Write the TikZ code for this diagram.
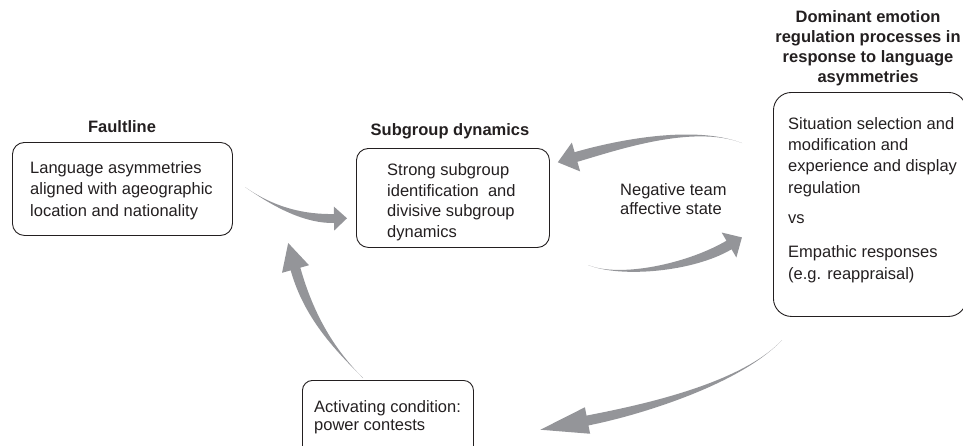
\documentclass[tikz,border=0pt]{standalone}
\usepackage{fontspec}
\setmainfont{Liberation Sans}
\usetikzlibrary{calc}
\definecolor{arrowgray}{RGB}{148,149,153}
\definecolor{ink}{RGB}{35,31,32}
% tapered curved arrow: #1 tail, #2 ctrl1, #3 ctrl2, #4 head base, #5 half shaft width, #6 half head width, #7 head length
\newcommand{\taperarrow}[7]{%
  \fill[arrowgray] (#1) .. controls (#2) and ($(#3)!#5!-90:(#4)$) .. ($(#4)!#5!90:(#3)$)
    -- ($(#4)!#6!90:(#3)$) -- ($(#4)!-#7!(#3)$) -- ($(#4)!#6!-90:(#3)$)
    -- ($(#4)!#5!-90:(#3)$) .. controls ($(#3)!#5!90:(#4)$) and (#2) .. (#1) -- cycle;
}
\begin{document}
\begin{tikzpicture}[x=1pt,y=-1pt,
  box/.style={draw=ink, line width=0.9pt, rounded corners=12pt, anchor=north west, inner sep=0pt},
  body/.style={text=ink, inner sep=0pt, anchor=base west, align=left},
  ttl/.style={text=ink, inner sep=0pt, anchor=base, align=center, font=\fontsize{16.5}{19.7}\selectfont\bfseries}]
\useasboundingbox (0,0) rectangle (963,445);
\clip (0,0) rectangle (963,445);

% boxes
\node[box, minimum width=220pt, minimum height=93pt] (fault) at (12,142) {};
\node[box, minimum width=193pt, minimum height=99pt] (subg) at (356,148) {};
\node[box, minimum width=193pt, minimum height=224pt, rounded corners=18pt] (emo) at (773,92) {};
\node[box, minimum width=171pt, minimum height=85pt, rounded corners=10pt] (act) at (302,380) {};

% titles (anchored at the baseline of their last line)
\node[ttl] (faulttitle) at (122,132) {Faultline};
\node[ttl] (subgtitle) at (450,135) {Subgroup dynamics};
\node[ttl] (emotitle) at (868,82) {Dominant emotion\\regulation processes in\\response to language\\asymmetries};

% texts (anchored at the baseline of their last line)
\node[body, font=\fontsize{16.5}{21.5}\selectfont] (faulttxt) at (30,216)
  {Language asymmetries\\aligned with ageographic\\location and nationality};
\node[body, font=\fontsize{16.5}{20.5}\selectfont] (subgtxt) at (387,237)
  {Strong subgroup\\identification\ \ and\\divisive subgroup\\dynamics};
\node[body, font=\fontsize{16.5}{21.3}\selectfont] (emotxt) at (788,279)
  {Situation selection and\\modification and\\experience and display\\regulation\\[9.5pt]vs\\[12.5pt]Empathic responses\\(e.g. reappraisal)};
\node[body, font=\fontsize{16.5}{19}\selectfont] (negtxt) at (620,214)
  {Negative team\\affective state};
\node[body, font=\fontsize{16.5}{18.5}\selectfont] (acttxt) at (314,430.5)
  {Activating condition:\\power contests};

% arrow anchor coordinates
\coordinate (a1t) at (245,187); \coordinate (a1c) at (275,208); \coordinate (a1d) at (305,219); \coordinate (a1b) at (334,218.5);
\coordinate (a2t) at (742,143); \coordinate (a2c) at (692,124); \coordinate (a2d) at (614,146); \coordinate (a2b) at (576,157);
\coordinate (a3t) at (588,265); \coordinate (a3c) at (620,278); \coordinate (a3d) at (690,268); \coordinate (a3b) at (729,245);
\coordinate (a4t) at (782,340); \coordinate (a4c) at (740,385); \coordinate (a4d) at (636,411); \coordinate (a4b) at (587.5,420.5);
\coordinate (a5t) at (363,378); \coordinate (a5c) at (335,350); \coordinate (a5d) at (309,317); \coordinate (a5b) at (295.5,269);

\taperarrow{a1t}{a1c}{a1d}{a1b}{4.5pt}{12pt}{13pt}
\taperarrow{a2t}{a2c}{a2d}{a2b}{5pt}{15pt}{19pt}
\taperarrow{a3t}{a3c}{a3d}{a3b}{5pt}{14.5pt}{15pt}
\taperarrow{a4t}{a4c}{a4d}{a4b}{5pt}{13.5pt}{48pt}
\taperarrow{a5t}{a5c}{a5d}{a5b}{5pt}{14pt}{27pt}
\end{tikzpicture}
\end{document}
